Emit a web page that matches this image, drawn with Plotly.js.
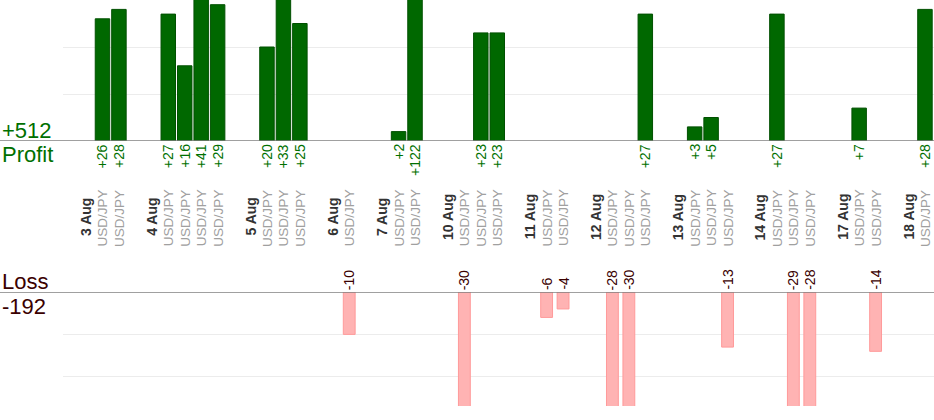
<!DOCTYPE html>
<html>
<head>
<meta charset="utf-8">
<script src="https://cdn.plot.ly/plotly-3.0.1.min.js"></script>
<style>
html,body{margin:0;padding:0;background:#fff;}
#chart{width:934px;height:420px;}
</style>
</head>
<body>
<div id="chart"></div>
<script>
// ---- data ----
const tradeDates = ['3 Aug','3 Aug','4 Aug','4 Aug','4 Aug','4 Aug','5 Aug','5 Aug','5 Aug','6 Aug',
  '7 Aug','7 Aug','10 Aug','10 Aug','10 Aug','11 Aug','11 Aug','12 Aug','12 Aug','12 Aug',
  '13 Aug','13 Aug','13 Aug','14 Aug','14 Aug','14 Aug','17 Aug','17 Aug','18 Aug'];
const tradePairs = ['USD/JPY','USD/JPY','USD/JPY','USD/JPY','USD/JPY','USD/JPY','USD/JPY','USD/JPY','USD/JPY','USD/JPY',
  'USD/JPY','USD/JPY','USD/JPY','USD/JPY','USD/JPY','USD/JPY','USD/JPY','USD/JPY','USD/JPY','USD/JPY',
  'USD/JPY','USD/JPY','USD/JPY','USD/JPY','USD/JPY','USD/JPY','USD/JPY','USD/JPY','USD/JPY'];
const tradePnl = [26,28,27,16,41,29,20,33,25,-10,
  2,122,-30,23,23,-6,-4,-28,-30,27,
  3,5,-13,27,-29,-28,7,-14,28];
const profitLabel = 'Profit';
const lossLabel = 'Loss';

// ---- build slots: date label slot, trade slots, empty gap ----
const dateSlots = [], dateNames = [];
const tradeSlots = [];
let slot = 0, prev = null;
tradeDates.forEach((d, i) => {
  if (d !== prev) {
    if (prev !== null) slot += 1; // gap
    dateSlots.push(slot); dateNames.push(d);
    slot += 1;
    prev = d;
  }
  tradeSlots.push(slot);
  slot += 1;
});

const px = p => 1 - p / 420;
const FONT = 'Liberation Sans, Arial, sans-serif';
const GREEN_TXT = '#007000';
const LOSS_TXT = '#3a0000';

const profX = [], profY = [], lossX = [], lossY = [];
tradePnl.forEach((v, i) => {
  if (v >= 0) { profX.push(tradeSlots[i]); profY.push(v); }
  else { lossX.push(tradeSlots[i]); lossY.push(v); }
});
const totalProfit = profY.reduce((a, b) => a + b, 0);
const totalLoss = lossY.reduce((a, b) => a + b, 0);

const traces = [
  {type: 'bar', x: profX, y: profY, xaxis: 'x', yaxis: 'y', width: 0.88,
   marker: {color: '#006800', line: {color: '#005000', width: 1}}, hoverinfo: 'none'},
  {type: 'bar', x: lossX, y: lossY, xaxis: 'x', yaxis: 'y2', width: 0.72,
   marker: {color: '#ffb3b3', line: {color: '#ff9a9a', width: 1}}, hoverinfo: 'none'}
];

const annotations = [];
// category labels
dateSlots.forEach((s, i) => {
  annotations.push({x: s, xref: 'x', y: px(217), yref: 'paper', text: '<b>' + dateNames[i] + '</b>',
    textangle: -90, showarrow: false, xanchor: 'center', yanchor: 'middle',
    font: {family: FONT, size: 14, color: '#333333'}});
});
tradeSlots.forEach((s, i) => {
  annotations.push({x: s, xref: 'x', y: px(218), yref: 'paper', text: tradePairs[i],
    textangle: -90, showarrow: false, xanchor: 'center', yanchor: 'middle',
    font: {family: FONT, size: 13.5, color: '#a0a0a0'}});
  const v = tradePnl[i];
  if (v >= 0) {
    annotations.push({x: s, xref: 'x', y: px(143), yref: 'paper', text: '+' + v,
      textangle: -90, showarrow: false, xanchor: 'center', yanchor: 'top', borderpad: 0,
      font: {family: FONT, size: 14, color: GREEN_TXT}});
  } else {
    annotations.push({x: s, xref: 'x', y: px(291), yref: 'paper', text: String(v),
      textangle: -90, showarrow: false, xanchor: 'center', yanchor: 'bottom', borderpad: 0,
      font: {family: FONT, size: 14, color: LOSS_TXT}});
  }
});
// side totals
annotations.push({x: 0, xref: 'paper', y: px(130), yref: 'paper', text: '+' + totalProfit,
  showarrow: false, xanchor: 'left', yanchor: 'middle', font: {family: FONT, size: 22, color: GREEN_TXT}});
annotations.push({x: 0, xref: 'paper', y: px(154), yref: 'paper', text: profitLabel,
  showarrow: false, xanchor: 'left', yanchor: 'middle', font: {family: FONT, size: 22, color: GREEN_TXT}});
annotations.push({x: 0, xref: 'paper', y: px(281), yref: 'paper', text: lossLabel,
  showarrow: false, xanchor: 'left', yanchor: 'middle', font: {family: FONT, size: 22, color: LOSS_TXT}});
annotations.push({x: 0, xref: 'paper', y: px(306), yref: 'paper', text: String(totalLoss),
  showarrow: false, xanchor: 'left', yanchor: 'middle', font: {family: FONT, size: 22, color: LOSS_TXT}});

const layout = {
  width: 934, height: 420,
  margin: {l: 0, r: 0, t: 0, b: 0},
  paper_bgcolor: '#ffffff', plot_bgcolor: '#ffffff',
  showlegend: false, hovermode: false, barmode: 'overlay',
  xaxis: {domain: [63/934, 1], range: [-1.4, 51.55], showgrid: false, zeroline: false,
    showticklabels: false, ticks: '', showline: false, fixedrange: true},
  yaxis: {domain: [px(141), 1], range: [0, 30], dtick: 10, showgrid: true, gridcolor: '#ececec',
    gridwidth: 1, zeroline: false, showticklabels: false, ticks: '', showline: false, fixedrange: true},
  yaxis2: {domain: [px(406), px(292)], range: [-26.9, 0], dtick: 10, showgrid: true, gridcolor: '#ececec',
    gridwidth: 1, zeroline: false, showticklabels: false, ticks: '', showline: false, fixedrange: true},
  shapes: [
    {type: 'line', xref: 'paper', x0: 0, x1: 1, yref: 'y', y0: 0, y1: 0, line: {color: '#808080', width: 1.3}},
    {type: 'line', xref: 'paper', x0: 0, x1: 1, yref: 'y2', y0: 0, y1: 0, line: {color: '#808080', width: 1.3}}
  ],
  annotations: annotations
};

Plotly.newPlot('chart', traces, layout, {staticPlot: true, displayModeBar: false});
</script>
</body>
</html>
